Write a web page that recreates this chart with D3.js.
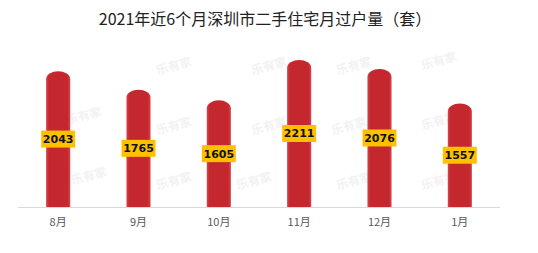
<!DOCTYPE html>
<html>
<head>
<meta charset="utf-8">
<script src="https://cdn.jsdelivr.net/npm/d3@7"></script>
<style>
  body { margin: 0; background: #fff; }
  svg { display: block; }
</style>
</head>
<body>
<script>
// data
var months = ["8月", "9月", "10月", "11月", "12月", "1月"];
var values = [2043, 1765, 1605, 2211, 2076, 1557];
var title = "2021年近6个月深圳市二手住宅月过户量（套）";

var w = 538, h = 253;
var plotLeft = 18, plotRight = 500, plotBase = 207, plotTop = 60;

var svg = d3.select("body").append("svg")
    .attr("width", w)
    .attr("height", h);

// bar gradient, slightly lighter on the edges
var grad = svg.append("defs").append("linearGradient")
    .attr("id", "barGrad")
    .attr("x1", "0%").attr("x2", "100%");
grad.append("stop").attr("offset", "0%").attr("stop-color", "#d6454a");
grad.append("stop").attr("offset", "12%").attr("stop-color", "#c4272d");
grad.append("stop").attr("offset", "88%").attr("stop-color", "#c4272d");
grad.append("stop").attr("offset", "100%").attr("stop-color", "#d6454a");

var x = d3.scaleBand()
    .domain(months)
    .range([plotLeft, plotRight])
    .paddingInner(0.7)
    .paddingOuter(0.35);

var y = d3.scaleLinear()
    .domain([0, 2211])
    .range([plotBase, plotTop]);

// title
svg.append("text")
    .attr("x", 265)
    .attr("y", 25)
    .attr("text-anchor", "middle")
    .attr("font-family", "Noto Sans CJK SC, sans-serif")
    .attr("font-size", "16px")
    .attr("fill", "#222")
    .text(title);

// faint watermarks
var marks = [[175, 70], [175, 130], [175, 185], [270, 70], [270, 130], [255, 185],
             [355, 70], [350, 130], [355, 185], [440, 65], [440, 125], [440, 185], [85, 120], [90, 180]];
svg.selectAll("text.wm")
   .data(marks)
   .enter()
   .append("text")
   .attr("class", "wm")
   .attr("transform", function(d) { return "translate(" + d[0] + "," + d[1] + ") rotate(-15)"; })
   .attr("text-anchor", "middle")
   .attr("font-family", "Noto Sans CJK SC, sans-serif")
   .attr("font-size", "12px")
   .attr("font-weight", "bold")
   .attr("fill", "#f2f2f2")
   .text("乐有家");

// axis line
svg.append("line")
    .attr("x1", plotLeft).attr("x2", plotRight)
    .attr("y1", plotBase + 0.5).attr("y2", plotBase + 0.5)
    .attr("stroke", "#d9d9d9");

var bw = x.bandwidth();
var r = bw / 2;

// bars with a rounded top
svg.selectAll("path.bar")
   .data(values)
   .enter()
   .append("path")
   .attr("class", "bar")
   .attr("fill", "url(#barGrad)")
   .attr("d", function(d, i) {
      var x0 = x(months[i]), x1 = x0 + bw, yt = y(d), ry = 8;
      return "M" + x0 + "," + plotBase +
             "L" + x0 + "," + (yt + ry) +
             "A" + r + "," + ry + " 0 0 1 " + x1 + "," + (yt + ry) +
             "L" + x1 + "," + plotBase + "Z";
    });

// value labels in yellow boxes
var lab = svg.selectAll("g.lab")
   .data(values)
   .enter()
   .append("g")
   .attr("class", "lab")
   .attr("transform", function(d, i) {
      return "translate(" + (x(months[i]) + bw / 2) + "," + ((y(d) + plotBase) / 2) + ")";
    });

lab.append("rect")
   .attr("x", -17)
   .attr("y", -8.5)
   .attr("width", 34)
   .attr("height", 17)
   .attr("fill", "#ffc000");

lab.append("text")
   .attr("text-anchor", "middle")
   .attr("dy", "0.36em")
   .attr("font-family", "DejaVu Sans, sans-serif")
   .attr("font-size", "11px")
   .attr("font-weight", "bold")
   .attr("fill", "#111")
   .text(function(d) { return d; });

// month labels
svg.selectAll("text.month")
   .data(months)
   .enter()
   .append("text")
   .attr("class", "month")
   .attr("x", function(d) { return x(d) + bw / 2; })
   .attr("y", 226)
   .attr("text-anchor", "middle")
   .attr("font-family", "Noto Sans CJK SC, sans-serif")
   .attr("font-size", "11px")
   .attr("fill", "#595959")
   .text(function(d) { return d; });
</script>
</body>
</html>
